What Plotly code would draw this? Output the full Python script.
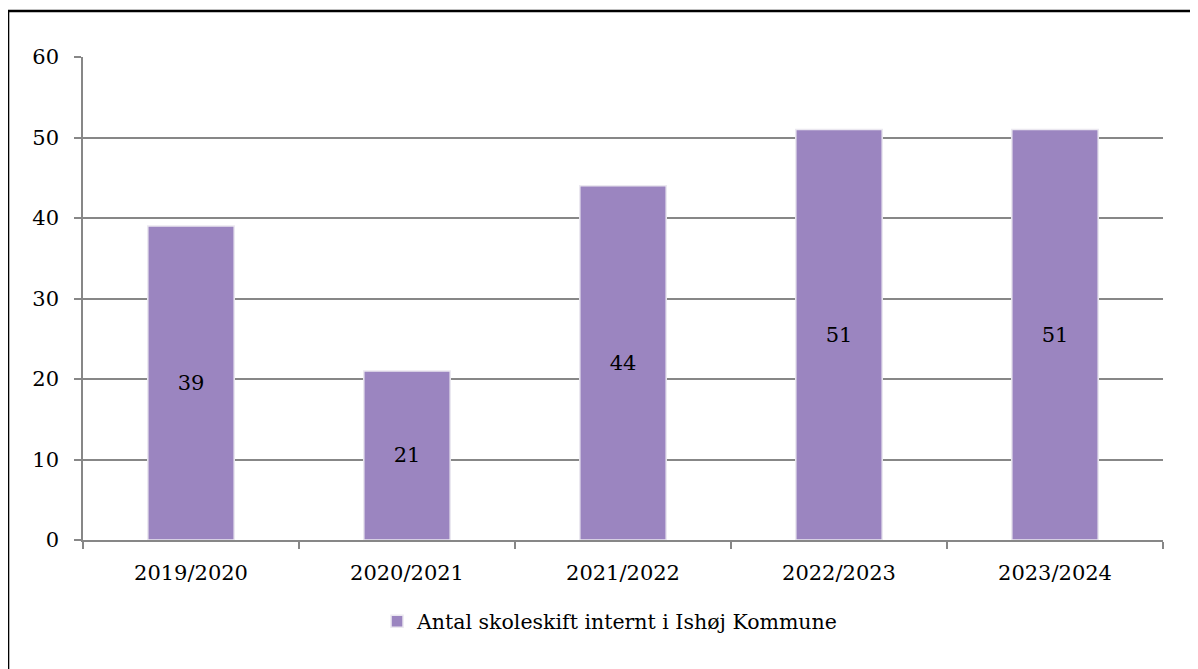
import plotly.graph_objects as go

years = ['2019/2020', '2020/2021', '2021/2022', '2022/2023', '2023/2024']
skoleskift = [39, 21, 44, 51, 51]
series_name = 'Antal skoleskift internt i Ishøj Kommune'

BAR = '#9b85c0'
GRID = '#878787'
FONT = 'DejaVu Serif'

fig = go.Figure()
fig.add_trace(go.Bar(
    x=years, y=skoleskift, name=series_name,
    marker={'color': BAR, 'line': {'color': '#ebe8f0', 'width': 1.5}},
    text=[str(v) for v in skoleskift], textposition='inside',
    insidetextanchor='middle', textangle=0,
    textfont={'family': FONT, 'size': 21, 'color': 'black'},
))

# outer frame of the figure box (cropped at right and bottom in the original)
fig.add_shape(type='rect', xref='paper', yref='paper',
              x0=-0.0694, x1=1.2, y0=-0.4, y1=1.095,
              line={'color': 'black', 'width': 2.5}, layer='below')

fig.update_layout(
    width=1190, height=661,
    margin={'l': 75, 'r': 35, 't': 49, 'b': 129},
    plot_bgcolor='white', paper_bgcolor='white',
    bargap=0.6,
    font={'family': FONT, 'size': 21, 'color': 'black'},
    showlegend=True,
    legend={'orientation': 'h', 'x': 0.488, 'xanchor': 'center',
            'y': -0.127, 'yanchor': 'top',
            'font': {'family': FONT, 'size': 20.5}, 'itemwidth': 30},
)
fig.update_yaxes(range=[0, 60], dtick=10, showgrid=True, gridcolor=GRID, gridwidth=1.5,
                 showline=True, linecolor=GRID, linewidth=1.5,
                 ticks='outside', ticklen=7, tickcolor=GRID, tickwidth=1.5,
                 zeroline=False, ticklabelstandoff=11)
fig.update_xaxes(showline=True, linecolor=GRID, linewidth=1.5,
                 ticks='outside', ticklen=7, tickcolor=GRID, tickwidth=1.5,
                 tickson='boundaries', showgrid=False, ticklabelstandoff=13)

fig.write_html('out.html')
